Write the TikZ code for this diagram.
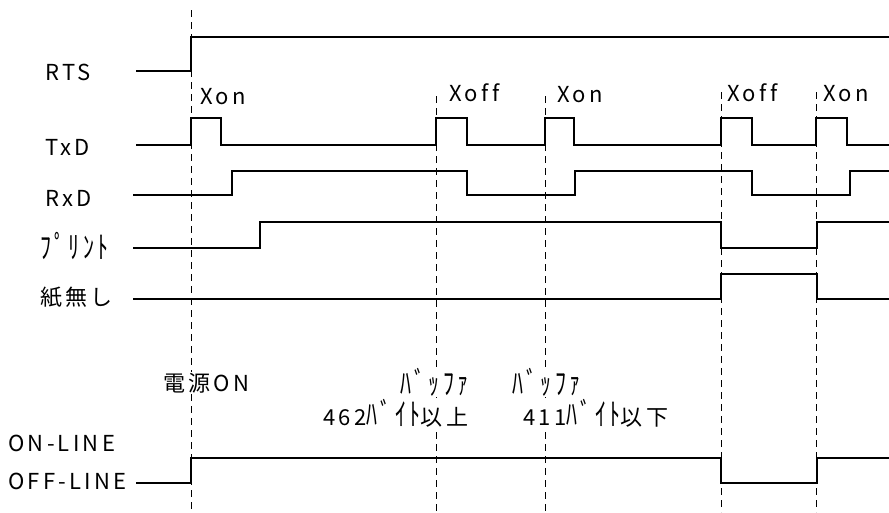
\documentclass[tikz,border=0pt]{standalone}
\usepackage{fontspec}
\setmainfont{Noto Sans CJK JP}[LetterSpace=15,Ligatures=NoCommon]
\newcommand\tallkana[1]{\scalebox{1}[1.4]{#1}}
\begin{document}
\begin{tikzpicture}[x=1pt,y=-1pt,
  sig/.style={line width=1.8pt},
  guide/.style={line width=0.8pt, dash pattern=on 7pt off 5pt},
  lbl/.style={anchor=west, inner sep=0pt, font=\fontsize{22}{24}\selectfont},
  note/.style={anchor=west, fill=white, inner sep=1pt, font=\fontsize{22}{24}\selectfont}]
  \useasboundingbox (0,0) rectangle (889,512);
  % Dashed time marks
  \draw[guide] (191,10) -- (191,512);
  \foreach \x in {436,545} \draw[guide] (\x,96) -- (\x,512);
  \foreach \x in {721,816} \draw[guide] (\x,92) -- (\x,512);
  % RTS
  \node[lbl] (rts) at (45,72) {RTS};
  \draw[sig] (136,71) -| (191,37) -- (889,37);
  % TxD
  \node[lbl] (txd) at (45,147) {TxD};
  \draw[sig] (136,145) -| (191,118) -| (221,145) -| (436,118) -| (467,145)
    -| (545,118) -| (574,145) -| (721,118) -| (752,145) -| (816,118)
    -| (847,145) -- (889,145);
  % Xon / Xoff
  \node[lbl] (xon1) at (200,97) {Xon};
  \node[lbl] (xoff1) at (449,93) {Xoff};
  \node[lbl] (xon2) at (557,95) {Xon};
  \node[lbl] (xoff2) at (727,93) {Xoff};
  \node[lbl] (xon3) at (823,94) {Xon};
  % RxD
  \node[lbl] (rxd) at (45,198) {RxD};
  \draw[sig] (133,195) -| (232,171) -| (467,195) -| (575,171) -| (752,195)
    -| (850,171) -- (889,171);
  % Print
  \node[lbl] (prt) at (40,246) {\tallkana{ﾌﾟﾘﾝﾄ}};
  \draw[sig] (133,248) -| (260,222) -| (721,248) -| (817,222) -- (889,222);
  % Paper out
  \node[lbl] (paper) at (40,297) {紙無し};
  \draw[sig] (133,299) -| (721,274) -| (817,299) -- (889,299);
  % Notes
  \node[note] (pwr) at (162,383) {電源ON};
  \node[note] (buf1) at (399,382) {\tallkana{ﾊﾞｯﾌｧ}};
  \node[note] (full) at (322,413) {462\tallkana{ﾊﾞｲﾄ}以\hspace{4pt}上};
  \node[note] (buf2) at (511,382) {\tallkana{ﾊﾞｯﾌｧ}};
  \node[note] (free) at (522,413) {411\tallkana{ﾊﾞｲﾄ}以\hspace{4pt}下};
  % Online
  \node[lbl] (on) at (8,443) {ON-LINE};
  \node[lbl] (off) at (8,481) {OFF-LINE};
  \draw[sig] (136,483) -| (191,458) -| (721,483) -| (817,458) -- (889,458);
\end{tikzpicture}
\end{document}
